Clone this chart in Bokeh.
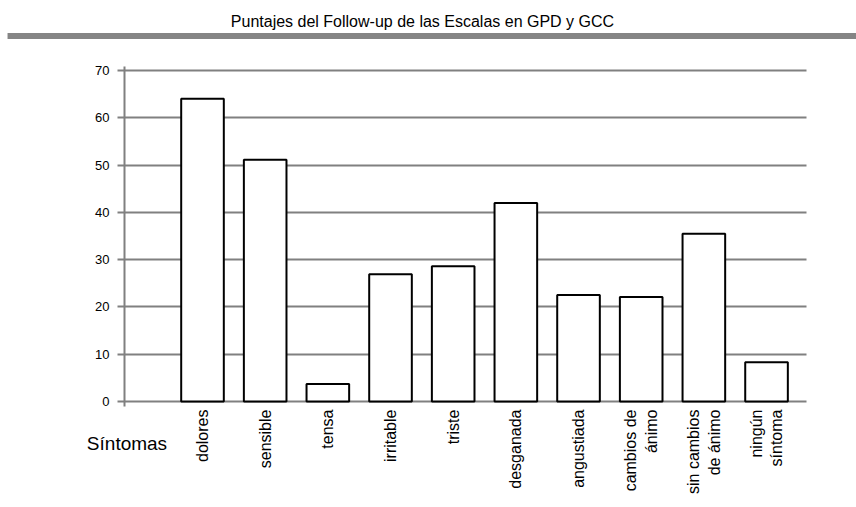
from bokeh.plotting import figure
from bokeh.models import (Range1d, FixedTicker, Label, ColumnDataSource,
                          LinearAxis, Grid, BoxAnnotation)
from bokeh.embed import file_html
from bokeh.resources import INLINE
import math

# ---- data ----
title_text = "Puntajes del Follow-up de las Escalas en GPD y GCC"
axis_caption = "Síntomas"
categories = ["dolores", "sensible", "tensa", "irritable", "triste",
              "desganada", "angustiada", "cambios de\nánimo",
              "sin cambios\nde ánimo", "ningún\nsíntoma"]
scores = [64.0, 51.1, 3.7, 26.9, 28.6, 42.0, 22.5, 22.1, 35.5, 8.3]
y_ticks = [0, 10, 20, 30, 40, 50, 60, 70]

SANS = "Liberation Sans"
GRAY = "#808080"

# plot-area extents (in data units)
X_LO, X_HI = -1.245, 9.638
Y_LO, Y_HI = -1.06, 70.85

idx = list(range(len(categories)))
src = ColumnDataSource(dict(x=idx, top=scores))

p = figure(width=856, height=507, output_backend="svg", toolbar_location=None,
           title=None, x_axis_type=None, y_axis_type=None,
           x_range=Range1d(-3.2233, 10.4356), y_range=Range1d(-22.41, 84.80),
           min_border=0, outline_line_color=None)

# horizontal grid lines
ygrid = Grid(dimension=1, ticker=FixedTicker(ticks=y_ticks),
             grid_line_color=GRAY, grid_line_width=2)
if "cross_bounds" in Grid.properties():
    ygrid.cross_bounds = (X_LO, X_HI)
    p.add_layout(ygrid)
else:
    p.segment(x0=X_LO, x1=X_HI, y0=y_ticks, y1=y_ticks, line_color=GRAY,
              line_width=2, level="underlay")

p.vbar(x="x", top="top", bottom=0, width=0.68, source=src,
       fill_color="white", line_color="black", line_width=2)

# y axis
yaxis = LinearAxis(fixed_location=X_LO, bounds=(Y_LO, Y_HI),
                   ticker=FixedTicker(ticks=y_ticks))
yaxis.axis_line_color = GRAY
yaxis.axis_line_width = 2
yaxis.major_tick_line_color = GRAY
yaxis.major_tick_line_width = 2
yaxis.major_tick_out = 7
yaxis.major_tick_in = 0
yaxis.minor_tick_line_color = None
yaxis.major_label_text_font = SANS
yaxis.major_label_text_font_size = "13px"
yaxis.major_label_text_color = "black"
yaxis.major_label_standoff = 8
p.add_layout(yaxis, "left")

# x axis (category labels)
xaxis = LinearAxis(fixed_location=0, ticker=FixedTicker(ticks=idx))
xaxis.major_label_overrides = {i: c for i, c in zip(idx, categories)}
xaxis.major_label_orientation = math.pi / 2
xaxis.axis_line_color = None
xaxis.major_tick_line_color = None
xaxis.minor_tick_line_color = None
xaxis.major_tick_out = 0
xaxis.major_tick_in = 0
xaxis.major_label_standoff = 8
xaxis.major_label_text_font = SANS
xaxis.major_label_text_font_size = "16px"
xaxis.major_label_text_color = "black"
p.add_layout(xaxis, "below")

# title and band
p.add_layout(Label(x=3.51, y=80.46, text=title_text, text_align="center",
                   text_baseline="alphabetic", text_font=SANS,
                   text_font_size="16px", text_color="black"))
p.add_layout(BoxAnnotation(left=-3.111, bottom=76.65, top=77.92,
                           fill_color="#858585", fill_alpha=1.0,
                           line_color=None))

# axis caption
p.add_layout(Label(x=-1.205, y=-8.88, text=axis_caption, text_align="center",
                   text_baseline="alphabetic", text_font=SANS,
                   text_font_size="19px", text_color="black"))

open("out.html", "w").write(file_html(p, INLINE))
